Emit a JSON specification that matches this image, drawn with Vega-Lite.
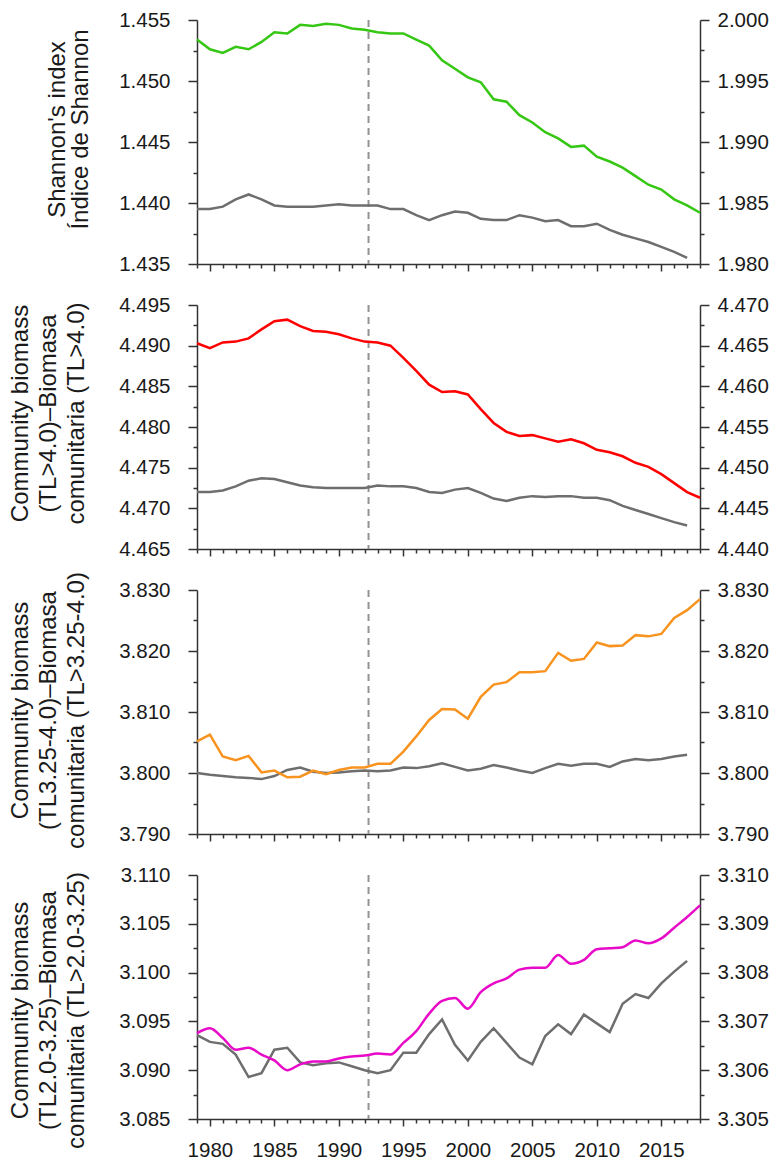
{
  "$schema": "https://vega.github.io/schema/vega-lite/v6.json",
  "padding": {"left": 8, "top": 10, "right": 4, "bottom": 0},
  "bounds": "flush",
  "spacing": 41,
  "config": {
    "view": {"stroke": null},
    "axis": {
      "grid": false,
      "domainColor": "#333333",
      "domainWidth": 1.5,
      "tickColor": "#333333",
      "tickWidth": 1.5,
      "labelFont": "Liberation Sans",
      "labelFontSize": 20.5,
      "labelColor": "#1a1a1a",
      "titleFont": "Liberation Sans",
      "titleFontSize": 24,
      "titleFontWeight": "normal",
      "titleColor": "#1a1a1a",
      "labelOverlap": false,
      "labelFlush": false
    }
  },
  "data": {
    "values": [
      {"year": 1979, "h_green": 1.4534, "h_gray": 1.9845, "tl4_red": 4.4903, "tl4_gray": 4.4470, "tl325_orange": 3.8052, "tl325_gray": 3.8000, "tl2_magenta": 3.0938, "tl2_gray": 3.30672},
      {"year": 1980, "h_green": 1.4526, "h_gray": 1.9845, "tl4_red": 4.4897, "tl4_gray": 4.4470, "tl325_orange": 3.8063, "tl325_gray": 3.7997, "tl2_magenta": 3.0943, "tl2_gray": 3.30658},
      {"year": 1981, "h_green": 1.4523, "h_gray": 1.9847, "tl4_red": 4.4904, "tl4_gray": 4.4472, "tl325_orange": 3.8027, "tl325_gray": 3.7995, "tl2_magenta": 3.0933, "tl2_gray": 3.30654},
      {"year": 1982, "h_green": 1.4528, "h_gray": 1.9853, "tl4_red": 4.4905, "tl4_gray": 4.4477, "tl325_orange": 3.8021, "tl325_gray": 3.7993, "tl2_magenta": 3.0921, "tl2_gray": 3.30632},
      {"year": 1983, "h_green": 1.4526, "h_gray": 1.9857, "tl4_red": 4.4909, "tl4_gray": 4.4484, "tl325_orange": 3.8028, "tl325_gray": 3.7992, "tl2_magenta": 3.0923, "tl2_gray": 3.30586},
      {"year": 1984, "h_green": 1.4532, "h_gray": 1.9853, "tl4_red": 4.4920, "tl4_gray": 4.4487, "tl325_orange": 3.8001, "tl325_gray": 3.7990, "tl2_magenta": 3.0916, "tl2_gray": 3.30594},
      {"year": 1985, "h_green": 1.4540, "h_gray": 1.9848, "tl4_red": 4.4930, "tl4_gray": 4.4486, "tl325_orange": 3.8004, "tl325_gray": 3.7995, "tl2_magenta": 3.0910, "tl2_gray": 3.30642},
      {"year": 1986, "h_green": 1.4539, "h_gray": 1.9847, "tl4_red": 4.4932, "tl4_gray": 4.4482, "tl325_orange": 3.7993, "tl325_gray": 3.8005, "tl2_magenta": 3.0900, "tl2_gray": 3.30646},
      {"year": 1987, "h_green": 1.4546, "h_gray": 1.9847, "tl4_red": 4.4924, "tl4_gray": 4.4478, "tl325_orange": 3.7994, "tl325_gray": 3.8009, "tl2_magenta": 3.0906, "tl2_gray": 3.30616},
      {"year": 1988, "h_green": 1.4545, "h_gray": 1.9847, "tl4_red": 4.4918, "tl4_gray": 4.4476, "tl325_orange": 3.8004, "tl325_gray": 3.8002, "tl2_magenta": 3.0909, "tl2_gray": 3.30610},
      {"year": 1989, "h_green": 1.4547, "h_gray": 1.9848, "tl4_red": 4.4917, "tl4_gray": 4.4475, "tl325_orange": 3.7998, "tl325_gray": 3.8000, "tl2_magenta": 3.0909, "tl2_gray": 3.30614},
      {"year": 1990, "h_green": 1.4546, "h_gray": 1.9849, "tl4_red": 4.4914, "tl4_gray": 4.4475, "tl325_orange": 3.8005, "tl325_gray": 3.8001, "tl2_magenta": 3.0912, "tl2_gray": 3.30616},
      {"year": 1991, "h_green": 1.4543, "h_gray": 1.9848, "tl4_red": 4.4909, "tl4_gray": 4.4475, "tl325_orange": 3.8009, "tl325_gray": 3.8003, "tl2_magenta": 3.0914, "tl2_gray": 3.30608},
      {"year": 1992, "h_green": 1.4542, "h_gray": 1.9848, "tl4_red": 4.4905, "tl4_gray": 4.4475, "tl325_orange": 3.8009, "tl325_gray": 3.8004, "tl2_magenta": 3.0915, "tl2_gray": 3.30600},
      {"year": 1993, "h_green": 1.4540, "h_gray": 1.9848, "tl4_red": 4.4904, "tl4_gray": 4.4478, "tl325_orange": 3.8015, "tl325_gray": 3.8003, "tl2_magenta": 3.0917, "tl2_gray": 3.30594},
      {"year": 1994, "h_green": 1.4539, "h_gray": 1.9845, "tl4_red": 4.4900, "tl4_gray": 4.4477, "tl325_orange": 3.8015, "tl325_gray": 3.8004, "tl2_magenta": 3.0916, "tl2_gray": 3.30600},
      {"year": 1995, "h_green": 1.4539, "h_gray": 1.9845, "tl4_red": 4.4885, "tl4_gray": 4.4477, "tl325_orange": 3.8035, "tl325_gray": 3.8009, "tl2_magenta": 3.0928, "tl2_gray": 3.30636},
      {"year": 1996, "h_green": 1.4534, "h_gray": 1.9840, "tl4_red": 4.4869, "tl4_gray": 4.4475, "tl325_orange": 3.8060, "tl325_gray": 3.8008, "tl2_magenta": 3.0940, "tl2_gray": 3.30636},
      {"year": 1997, "h_green": 1.4529, "h_gray": 1.9836, "tl4_red": 4.4852, "tl4_gray": 4.4470, "tl325_orange": 3.8087, "tl325_gray": 3.8011, "tl2_magenta": 3.0958, "tl2_gray": 3.30674},
      {"year": 1998, "h_green": 1.4517, "h_gray": 1.9840, "tl4_red": 4.4843, "tl4_gray": 4.4469, "tl325_orange": 3.8105, "tl325_gray": 3.8016, "tl2_magenta": 3.0971, "tl2_gray": 3.30704},
      {"year": 1999, "h_green": 1.4510, "h_gray": 1.9843, "tl4_red": 4.4844, "tl4_gray": 4.4473, "tl325_orange": 3.8104, "tl325_gray": 3.8010, "tl2_magenta": 3.0974, "tl2_gray": 3.30652},
      {"year": 2000, "h_green": 1.4503, "h_gray": 1.9842, "tl4_red": 4.4840, "tl4_gray": 4.4475, "tl325_orange": 3.8089, "tl325_gray": 3.8004, "tl2_magenta": 3.0963, "tl2_gray": 3.30620},
      {"year": 2001, "h_green": 1.4499, "h_gray": 1.9837, "tl4_red": 4.4822, "tl4_gray": 4.4469, "tl325_orange": 3.8125, "tl325_gray": 3.8007, "tl2_magenta": 3.0980, "tl2_gray": 3.30658},
      {"year": 2002, "h_green": 1.4485, "h_gray": 1.9836, "tl4_red": 4.4805, "tl4_gray": 4.4462, "tl325_orange": 3.8145, "tl325_gray": 3.8013, "tl2_magenta": 3.0989, "tl2_gray": 3.30686},
      {"year": 2003, "h_green": 1.4483, "h_gray": 1.9836, "tl4_red": 4.4794, "tl4_gray": 4.4459, "tl325_orange": 3.8149, "tl325_gray": 3.8009, "tl2_magenta": 3.0994, "tl2_gray": 3.30656},
      {"year": 2004, "h_green": 1.4472, "h_gray": 1.9840, "tl4_red": 4.4789, "tl4_gray": 4.4463, "tl325_orange": 3.8165, "tl325_gray": 3.8004, "tl2_magenta": 3.1003, "tl2_gray": 3.30626},
      {"year": 2005, "h_green": 1.4466, "h_gray": 1.9838, "tl4_red": 4.4790, "tl4_gray": 4.4465, "tl325_orange": 3.8165, "tl325_gray": 3.8000, "tl2_magenta": 3.1005, "tl2_gray": 3.30612},
      {"year": 2006, "h_green": 1.4458, "h_gray": 1.9835, "tl4_red": 4.4786, "tl4_gray": 4.4464, "tl325_orange": 3.8167, "tl325_gray": 3.8008, "tl2_magenta": 3.1005, "tl2_gray": 3.30670},
      {"year": 2007, "h_green": 1.4453, "h_gray": 1.9836, "tl4_red": 4.4782, "tl4_gray": 4.4465, "tl325_orange": 3.8197, "tl325_gray": 3.8015, "tl2_magenta": 3.1018, "tl2_gray": 3.30694},
      {"year": 2008, "h_green": 1.4446, "h_gray": 1.9831, "tl4_red": 4.4785, "tl4_gray": 4.4465, "tl325_orange": 3.8184, "tl325_gray": 3.8012, "tl2_magenta": 3.1009, "tl2_gray": 3.30674},
      {"year": 2009, "h_green": 1.4447, "h_gray": 1.9831, "tl4_red": 4.4780, "tl4_gray": 4.4463, "tl325_orange": 3.8187, "tl325_gray": 3.8015, "tl2_magenta": 3.1013, "tl2_gray": 3.30714},
      {"year": 2010, "h_green": 1.4438, "h_gray": 1.9833, "tl4_red": 4.4772, "tl4_gray": 4.4463, "tl325_orange": 3.8214, "tl325_gray": 3.8015, "tl2_magenta": 3.1024, "tl2_gray": 3.30696},
      {"year": 2011, "h_green": 1.4434, "h_gray": 1.9828, "tl4_red": 4.4769, "tl4_gray": 4.4460, "tl325_orange": 3.8208, "tl325_gray": 3.8010, "tl2_magenta": 3.1025, "tl2_gray": 3.30678},
      {"year": 2012, "h_green": 1.4429, "h_gray": 1.9824, "tl4_red": 4.4764, "tl4_gray": 4.4453, "tl325_orange": 3.8209, "tl325_gray": 3.8019, "tl2_magenta": 3.1026, "tl2_gray": 3.30736},
      {"year": 2013, "h_green": 1.4422, "h_gray": 1.9821, "tl4_red": 4.4756, "tl4_gray": 4.4448, "tl325_orange": 3.8226, "tl325_gray": 3.8023, "tl2_magenta": 3.1033, "tl2_gray": 3.30756},
      {"year": 2014, "h_green": 1.4415, "h_gray": 1.9818, "tl4_red": 4.4751, "tl4_gray": 4.4443, "tl325_orange": 3.8224, "tl325_gray": 3.8021, "tl2_magenta": 3.1030, "tl2_gray": 3.30748},
      {"year": 2015, "h_green": 1.4411, "h_gray": 1.9814, "tl4_red": 4.4742, "tl4_gray": 4.4438, "tl325_orange": 3.8228, "tl325_gray": 3.8023, "tl2_magenta": 3.1035, "tl2_gray": 3.30778},
      {"year": 2016, "h_green": 1.4403, "h_gray": 1.9810, "tl4_red": 4.4731, "tl4_gray": 4.4433, "tl325_orange": 3.8254, "tl325_gray": 3.8027, "tl2_magenta": 3.1046, "tl2_gray": 3.30802},
      {"year": 2017, "h_green": 1.4398, "h_gray": 1.9805, "tl4_red": 4.4720, "tl4_gray": 4.4429, "tl325_orange": 3.8267, "tl325_gray": 3.8030, "tl2_magenta": 3.1057, "tl2_gray": 3.30824},
      {"year": 2018, "h_green": 1.4392, "h_gray": null, "tl4_red": 4.4713, "tl4_gray": null, "tl325_orange": 3.8285, "tl325_gray": null, "tl2_magenta": 3.1069, "tl2_gray": null}
    ]
  },
  "vconcat": [
    {
      "width": 503, "height": 244,
      "layer": [
        {"data": {"values": [{"year": 1992.3}]},
         "mark": {"type": "rule", "color": "#939393", "strokeWidth": 2, "strokeDash": [7, 5]},
         "encoding": {"x": {"field": "year", "type": "quantitative", "scale": {"domain": [1979, 2018], "nice": false, "zero": false},
            "axis": {"values": [1979,1980,1981,1982,1983,1984,1985,1986,1987,1988,1989,1990,1991,1992,1993,1994,1995,1996,1997,1998,1999,2000,2001,2002,2003,2004,2005,2006,2007,2008,2009,2010,2011,2012,2013,2014,2015,2016,2017,2018], "labels": false, "title": null, "tickSize": {"condition": {"test": "datum.value % 5 === 0", "value": 7}, "value": 4}}}}},
        {"mark": {"type": "line", "color": "#6e6e6e", "strokeWidth": 2.5},
         "encoding": {
           "x": {"field": "year", "type": "quantitative", "scale": {"domain": [1979, 2018], "nice": false, "zero": false},
            "axis": {"values": [1979,1980,1981,1982,1983,1984,1985,1986,1987,1988,1989,1990,1991,1992,1993,1994,1995,1996,1997,1998,1999,2000,2001,2002,2003,2004,2005,2006,2007,2008,2009,2010,2011,2012,2013,2014,2015,2016,2017,2018], "labels": false, "title": null, "tickSize": {"condition": {"test": "datum.value % 5 === 0", "value": 7}, "value": 4}}},
           "y": {"field": "h_gray", "type": "quantitative", "scale": {"domain": [1.98, 2.0], "nice": false, "zero": false},
             "axis": {"orient": "right", "title": null, "values": [1.98,1.9825,1.985,1.9875,1.99,1.9925,1.995,1.9975,2.0], "labelPadding": 8,
               "labelExpr": "abs(datum.value*200-round(datum.value*200))<0.01 ? format(datum.value, '.3f') : ''",
               "tickSize": {"condition": {"test": "abs(datum.value*200-round(datum.value*200))<0.01", "value": 9}, "value": 4}}}}},
        {"mark": {"type": "line", "color": "#36c614", "strokeWidth": 2.5},
         "encoding": {
           "x": {"field": "year", "type": "quantitative", "scale": {"domain": [1979, 2018], "nice": false, "zero": false},
            "axis": {"values": [1979,1980,1981,1982,1983,1984,1985,1986,1987,1988,1989,1990,1991,1992,1993,1994,1995,1996,1997,1998,1999,2000,2001,2002,2003,2004,2005,2006,2007,2008,2009,2010,2011,2012,2013,2014,2015,2016,2017,2018], "labels": false, "title": null, "tickSize": {"condition": {"test": "datum.value % 5 === 0", "value": 7}, "value": 4}}},
           "y": {"field": "h_green", "type": "quantitative", "scale": {"domain": [1.435, 1.455], "nice": false, "zero": false},
             "axis": {"orient": "left", "title": ["Shannon's index", "Índice de Shannon"], "titleX": -128, "titleY": 109, "titleLineHeight": 23, "values": [1.435,1.4375,1.44,1.4425,1.445,1.4475,1.45,1.4525,1.455], "labelPadding": 18,
               "labelExpr": "abs(datum.value*200-round(datum.value*200))<0.01 ? format(datum.value, '.3f') : ''",
               "tickSize": {"condition": {"test": "abs(datum.value*200-round(datum.value*200))<0.01", "value": 9}, "value": 4}}}}}
      ],
      "resolve": {"scale": {"y": "independent"}}
    },
    {
      "width": 503, "height": 244,
      "layer": [
        {"data": {"values": [{"year": 1992.3}]},
         "mark": {"type": "rule", "color": "#939393", "strokeWidth": 2, "strokeDash": [7, 5]},
         "encoding": {"x": {"field": "year", "type": "quantitative", "scale": {"domain": [1979, 2018], "nice": false, "zero": false},
            "axis": {"values": [1979,1980,1981,1982,1983,1984,1985,1986,1987,1988,1989,1990,1991,1992,1993,1994,1995,1996,1997,1998,1999,2000,2001,2002,2003,2004,2005,2006,2007,2008,2009,2010,2011,2012,2013,2014,2015,2016,2017,2018], "labels": false, "title": null, "tickSize": {"condition": {"test": "datum.value % 5 === 0", "value": 7}, "value": 4}}}}},
        {"mark": {"type": "line", "color": "#6e6e6e", "strokeWidth": 2.5},
         "encoding": {
           "x": {"field": "year", "type": "quantitative", "scale": {"domain": [1979, 2018], "nice": false, "zero": false},
            "axis": {"values": [1979,1980,1981,1982,1983,1984,1985,1986,1987,1988,1989,1990,1991,1992,1993,1994,1995,1996,1997,1998,1999,2000,2001,2002,2003,2004,2005,2006,2007,2008,2009,2010,2011,2012,2013,2014,2015,2016,2017,2018], "labels": false, "title": null, "tickSize": {"condition": {"test": "datum.value % 5 === 0", "value": 7}, "value": 4}}},
           "y": {"field": "tl4_gray", "type": "quantitative", "scale": {"domain": [4.44, 4.47], "nice": false, "zero": false},
             "axis": {"orient": "right", "title": null, "values": [4.44,4.4425,4.445,4.4475,4.45,4.4525,4.455,4.4575,4.46,4.4625,4.465,4.4675,4.47], "labelPadding": 8,
               "labelExpr": "abs(datum.value*200-round(datum.value*200))<0.01 ? format(datum.value, '.3f') : ''",
               "tickSize": {"condition": {"test": "abs(datum.value*200-round(datum.value*200))<0.01", "value": 9}, "value": 4}}}}},
        {"mark": {"type": "line", "color": "#ff0000", "strokeWidth": 2.5},
         "encoding": {
           "x": {"field": "year", "type": "quantitative", "scale": {"domain": [1979, 2018], "nice": false, "zero": false},
            "axis": {"values": [1979,1980,1981,1982,1983,1984,1985,1986,1987,1988,1989,1990,1991,1992,1993,1994,1995,1996,1997,1998,1999,2000,2001,2002,2003,2004,2005,2006,2007,2008,2009,2010,2011,2012,2013,2014,2015,2016,2017,2018], "labels": false, "title": null, "tickSize": {"condition": {"test": "datum.value % 5 === 0", "value": 7}, "value": 4}}},
           "y": {"field": "tl4_red", "type": "quantitative", "scale": {"domain": [4.465, 4.495], "nice": false, "zero": false},
             "axis": {"orient": "left", "title": ["Community biomass", "(TL>4.0)–Biomasa", "comunitaria (TL>4.0)"], "titleX": -165, "titleY": 108, "titleLineHeight": 28, "values": [4.465,4.4675,4.47,4.4725,4.475,4.4775,4.48,4.4825,4.485,4.4875,4.49,4.4925,4.495], "labelPadding": 18,
               "labelExpr": "abs(datum.value*200-round(datum.value*200))<0.01 ? format(datum.value, '.3f') : ''",
               "tickSize": {"condition": {"test": "abs(datum.value*200-round(datum.value*200))<0.01", "value": 9}, "value": 4}}}}}
      ],
      "resolve": {"scale": {"y": "independent"}}
    },
    {
      "width": 503, "height": 244,
      "layer": [
        {"data": {"values": [{"year": 1992.3}]},
         "mark": {"type": "rule", "color": "#939393", "strokeWidth": 2, "strokeDash": [7, 5]},
         "encoding": {"x": {"field": "year", "type": "quantitative", "scale": {"domain": [1979, 2018], "nice": false, "zero": false},
            "axis": {"values": [1979,1980,1981,1982,1983,1984,1985,1986,1987,1988,1989,1990,1991,1992,1993,1994,1995,1996,1997,1998,1999,2000,2001,2002,2003,2004,2005,2006,2007,2008,2009,2010,2011,2012,2013,2014,2015,2016,2017,2018], "labels": false, "title": null, "tickSize": {"condition": {"test": "datum.value % 5 === 0", "value": 7}, "value": 4}}}}},
        {"mark": {"type": "line", "color": "#6e6e6e", "strokeWidth": 2.5},
         "encoding": {
           "x": {"field": "year", "type": "quantitative", "scale": {"domain": [1979, 2018], "nice": false, "zero": false},
            "axis": {"values": [1979,1980,1981,1982,1983,1984,1985,1986,1987,1988,1989,1990,1991,1992,1993,1994,1995,1996,1997,1998,1999,2000,2001,2002,2003,2004,2005,2006,2007,2008,2009,2010,2011,2012,2013,2014,2015,2016,2017,2018], "labels": false, "title": null, "tickSize": {"condition": {"test": "datum.value % 5 === 0", "value": 7}, "value": 4}}},
           "y": {"field": "tl325_gray", "type": "quantitative", "scale": {"domain": [3.79, 3.83], "nice": false, "zero": false},
             "axis": {"orient": "right", "title": null, "values": [3.79,3.795,3.8,3.805,3.81,3.815,3.82,3.825,3.83], "labelPadding": 8,
               "labelExpr": "abs(datum.value*100-round(datum.value*100))<0.01 ? format(datum.value, '.3f') : ''",
               "tickSize": {"condition": {"test": "abs(datum.value*100-round(datum.value*100))<0.01", "value": 9}, "value": 4}}}}},
        {"mark": {"type": "line", "color": "#f7931e", "strokeWidth": 2.5},
         "encoding": {
           "x": {"field": "year", "type": "quantitative", "scale": {"domain": [1979, 2018], "nice": false, "zero": false},
            "axis": {"values": [1979,1980,1981,1982,1983,1984,1985,1986,1987,1988,1989,1990,1991,1992,1993,1994,1995,1996,1997,1998,1999,2000,2001,2002,2003,2004,2005,2006,2007,2008,2009,2010,2011,2012,2013,2014,2015,2016,2017,2018], "labels": false, "title": null, "tickSize": {"condition": {"test": "datum.value % 5 === 0", "value": 7}, "value": 4}}},
           "y": {"field": "tl325_orange", "type": "quantitative", "scale": {"domain": [3.79, 3.83], "nice": false, "zero": false},
             "axis": {"orient": "left", "title": ["Community biomass", "(TL3.25-4.0)–Biomasa", "comunitaria (TL>3.25-4.0)"], "titleX": -165, "titleY": 120, "titleLineHeight": 28, "values": [3.79,3.795,3.8,3.805,3.81,3.815,3.82,3.825,3.83], "labelPadding": 18,
               "labelExpr": "abs(datum.value*100-round(datum.value*100))<0.01 ? format(datum.value, '.3f') : ''",
               "tickSize": {"condition": {"test": "abs(datum.value*100-round(datum.value*100))<0.01", "value": 9}, "value": 4}}}}}
      ],
      "resolve": {"scale": {"y": "independent"}}
    },
    {
      "width": 503, "height": 244,
      "layer": [
        {"data": {"values": [{"year": 1992.3}]},
         "mark": {"type": "rule", "color": "#939393", "strokeWidth": 2, "strokeDash": [7, 5]},
         "encoding": {"x": {"field": "year", "type": "quantitative", "scale": {"domain": [1979, 2018], "nice": false, "zero": false},
            "axis": {"values": [1979,1980,1981,1982,1983,1984,1985,1986,1987,1988,1989,1990,1991,1992,1993,1994,1995,1996,1997,1998,1999,2000,2001,2002,2003,2004,2005,2006,2007,2008,2009,2010,2011,2012,2013,2014,2015,2016,2017,2018], "title": null, "labelPadding": 14, "labelOverlap": false, "labelSeparation": -40, "labelBound": false,
              "labelExpr": "datum.value % 5 === 0 ? '' + datum.value : ''",
              "tickSize": {"condition": {"test": "datum.value % 5 === 0", "value": 7}, "value": 4}}}}},
        {"mark": {"type": "line", "color": "#6e6e6e", "strokeWidth": 2.5},
         "encoding": {
           "x": {"field": "year", "type": "quantitative", "scale": {"domain": [1979, 2018], "nice": false, "zero": false},
            "axis": {"values": [1979,1980,1981,1982,1983,1984,1985,1986,1987,1988,1989,1990,1991,1992,1993,1994,1995,1996,1997,1998,1999,2000,2001,2002,2003,2004,2005,2006,2007,2008,2009,2010,2011,2012,2013,2014,2015,2016,2017,2018], "title": null, "labelPadding": 14, "labelOverlap": false, "labelSeparation": -40, "labelBound": false,
              "labelExpr": "datum.value % 5 === 0 ? '' + datum.value : ''",
              "tickSize": {"condition": {"test": "datum.value % 5 === 0", "value": 7}, "value": 4}}},
           "y": {"field": "tl2_gray", "type": "quantitative", "scale": {"domain": [3.305, 3.31], "nice": false, "zero": false},
             "axis": {"orient": "right", "title": null, "values": [3.305,3.3055,3.306,3.3065,3.307,3.3075,3.308,3.3085,3.309,3.3095,3.31], "labelPadding": 8,
               "labelExpr": "abs(datum.value*1000-round(datum.value*1000))<0.01 ? format(datum.value, '.3f') : ''",
               "tickSize": {"condition": {"test": "abs(datum.value*1000-round(datum.value*1000))<0.01", "value": 9}, "value": 4}}}}},
        {"mark": {"type": "line", "color": "#e80ac8", "strokeWidth": 2.5, "interpolate": "monotone"},
         "encoding": {
           "x": {"field": "year", "type": "quantitative", "scale": {"domain": [1979, 2018], "nice": false, "zero": false},
            "axis": {"values": [1979,1980,1981,1982,1983,1984,1985,1986,1987,1988,1989,1990,1991,1992,1993,1994,1995,1996,1997,1998,1999,2000,2001,2002,2003,2004,2005,2006,2007,2008,2009,2010,2011,2012,2013,2014,2015,2016,2017,2018], "title": null, "labelPadding": 14, "labelOverlap": false, "labelSeparation": -40, "labelBound": false,
              "labelExpr": "datum.value % 5 === 0 ? '' + datum.value : ''",
              "tickSize": {"condition": {"test": "datum.value % 5 === 0", "value": 7}, "value": 4}}},
           "y": {"field": "tl2_magenta", "type": "quantitative", "scale": {"domain": [3.085, 3.11], "nice": false, "zero": false},
             "axis": {"orient": "left", "title": ["Community biomass", "(TL2.0-3.25)–Biomasa", "comunitaria (TL>2.0-3.25)"], "titleX": -165, "titleY": 135, "titleLineHeight": 28, "values": [3.085,3.0875,3.09,3.0925,3.095,3.0975,3.1,3.1025,3.105,3.1075,3.11], "labelPadding": 18,
               "labelExpr": "abs(datum.value*200-round(datum.value*200))<0.01 ? format(datum.value, '.3f') : ''",
               "tickSize": {"condition": {"test": "abs(datum.value*200-round(datum.value*200))<0.01", "value": 9}, "value": 4}}}}}
      ],
      "resolve": {"scale": {"y": "independent"}}
    }
  ]
}
